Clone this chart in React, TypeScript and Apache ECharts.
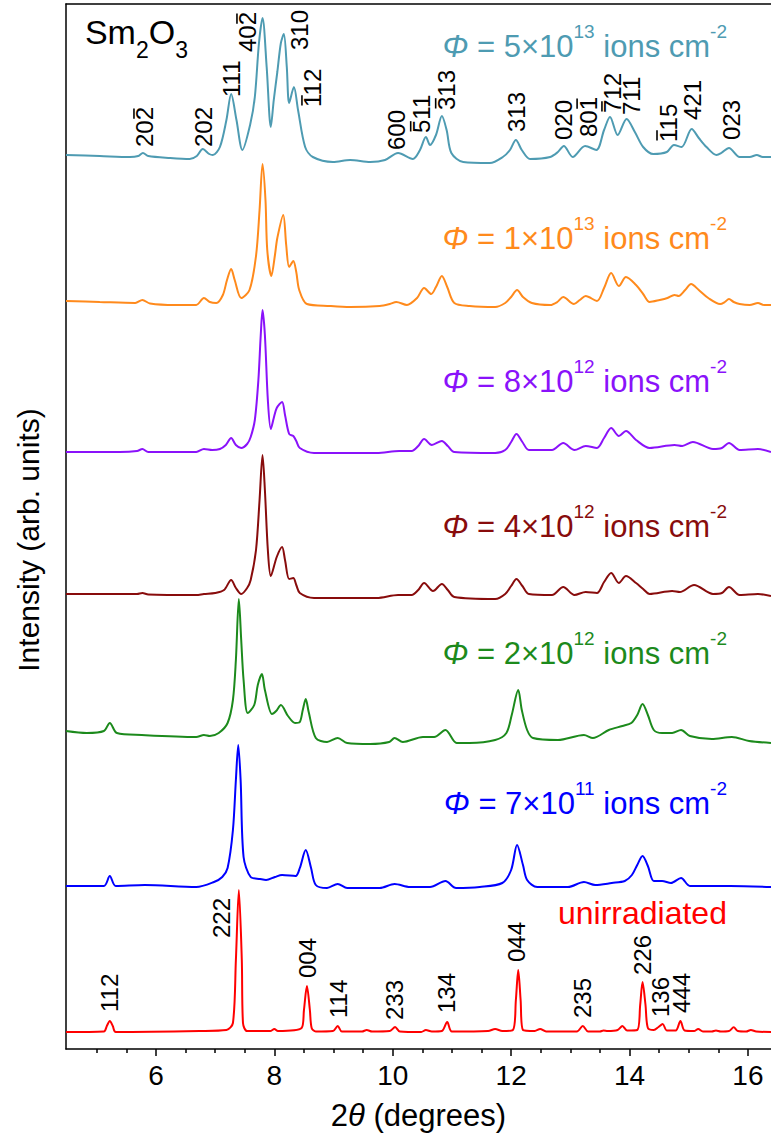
import { useEffect, useRef } from "react";
import * as echarts from "echarts";

const FONT = '"Liberation Sans", Arial, Helvetica, sans-serif';

const X_MIN = 4.48;
const X_MAX = 16.39;
const Y_MIN = 0;
const Y_MAX = 1045;
const majorTicks = [6, 8, 10, 12, 14, 16];
const minorTicks = [5, 5.5, 6.5, 7, 7.5, 8.5, 9, 9.5, 10.5, 11, 11.5, 12.5, 13, 13.5, 14.5, 15, 15.5];

// stacked patterns: [2θ, intensity (arb. units, offset included)]
const pattern5e13 = [[4.48,894],[5.05,893],[5.56,892],[5.70,893],[5.78,896],[5.87,893],[6.24,891],[6.57,890],[6.69,893],[6.79,900],[6.90,895],[6.96,894],[7.08,902],[7.19,929],[7.27,955],[7.36,929],[7.46,899],[7.59,924],[7.67,952],[7.74,1006],[7.80,1031],[7.87,982],[7.94,922],[7.99,949],[8.05,977],[8.11,1006],[8.16,1015],[8.21,982],[8.25,946],[8.33,962],[8.40,939],[8.52,902],[8.65,892],[8.99,887],[9.28,889],[9.62,887],[9.87,889],[10.09,896],[10.34,890],[10.46,899],[10.56,912],[10.63,904],[10.73,914],[10.83,933],[10.91,919],[10.99,896],[11.19,887],[11.64,886],[11.86,892],[11.98,899],[12.08,909],[12.18,899],[12.32,890],[12.66,892],[12.79,897],[12.89,903],[13.04,892],[13.25,903],[13.44,899],[13.57,919],[13.67,932],[13.80,914],[13.95,930],[14.09,917],[14.23,902],[14.40,895],[14.63,897],[14.75,904],[14.88,902],[15.05,920],[15.17,911],[15.30,902],[15.47,894],[15.55,896],[15.68,901],[15.86,892],[16.03,892],[16.15,894],[16.25,892],[16.39,892]];
const pattern1e13 = [[4.48,748],[5.05,747],[5.65,746],[5.77,749],[5.90,745.5],[6.32,744],[6.68,744],[6.81,751],[6.91,747],[7.02,746],[7.13,754],[7.20,769],[7.27,780],[7.33,769],[7.44,751],[7.58,759],[7.69,793],[7.75,839],[7.80,885],[7.85,849],[7.88,799],[7.95,773],[8.01,794],[8.05,811],[8.15,834],[8.20,804],[8.25,782],[8.32,788],[8.37,777],[8.42,759],[8.55,745],[8.94,743],[9.28,742],[9.78,743],[9.95,745],[10.06,747],[10.24,744],[10.41,751],[10.53,761],[10.65,755],[10.73,762],[10.83,773],[10.92,762],[11.04,746],[11.30,743],[11.73,742],[11.90,746],[12.00,752],[12.10,759],[12.20,752],[12.35,746],[12.66,744],[12.78,747],[12.88,752],[13.06,745],[13.16,749],[13.26,753],[13.45,748],[13.57,761],[13.69,776],[13.82,763],[13.94,772],[14.11,764],[14.23,755],[14.34,747],[14.51,749],[14.64,751],[14.76,754],[14.83,753],[14.94,759],[15.04,765],[15.17,759],[15.33,751],[15.53,745],[15.61,747],[15.68,750],[15.76,747],[15.86,745],[16.03,744],[16.17,746],[16.27,744],[16.39,744]];
const pattern8e12 = [[4.48,597],[5.39,597],[5.68,598],[5.77,600],[5.87,597],[6.68,597],[6.81,600],[6.95,599],[7.08,600],[7.18,604],[7.27,611],[7.35,604],[7.44,601],[7.54,605],[7.60,612],[7.67,629],[7.73,669],[7.77,714],[7.80,739],[7.84,714],[7.89,649],[7.94,620],[7.99,631],[8.04,641],[8.13,647],[8.18,634],[8.25,615],[8.32,613],[8.37,608],[8.43,601],[8.67,596],[9.73,596],[10.11,598],[10.32,598],[10.43,603],[10.53,610],[10.66,604],[10.83,608],[10.93,603],[11.04,597],[11.73,596],[11.90,599],[12.00,607],[12.09,615],[12.19,607],[12.30,599],[12.69,599],[12.88,606],[13.07,599],[13.26,603],[13.45,601],[13.57,611],[13.69,621],[13.82,613],[13.94,618],[14.11,609],[14.34,601],[14.76,604],[14.89,603],[15.07,607],[15.41,600],[15.56,601],[15.68,606],[15.86,599],[16.17,600],[16.39,597]];
const pattern4e12 = [[4.48,455],[5.68,455],[5.77,456],[5.87,454.5],[6.68,454],[6.81,455],[7.00,456],[7.15,459],[7.27,469],[7.35,461],[7.44,455],[7.54,461],[7.60,469],[7.69,499],[7.75,549],[7.80,594],[7.84,559],[7.89,499],[7.94,473],[8.04,492],[8.13,502],[8.18,489],[8.25,470],[8.32,471],[8.37,464],[8.43,456],[8.67,451],[9.73,451],[10.09,454],[10.32,454],[10.43,459],[10.53,466],[10.68,458],[10.83,465],[10.93,459],[11.04,452],[11.73,450],[11.90,455],[12.00,463],[12.09,470],[12.19,463],[12.30,455],[12.69,454],[12.88,462],[13.07,454],[13.26,457],[13.45,456],[13.57,467],[13.69,476],[13.82,466],[13.94,473],[14.11,466],[14.23,460],[14.34,455],[14.72,458],[14.85,457],[15.09,464],[15.41,455],[15.56,456],[15.68,462],[15.86,454],[16.17,455],[16.39,453]];
const pattern2e12 = [[4.48,318],[4.83,316],[5.12,318],[5.22,326],[5.34,316],[5.76,314],[6.68,312],[6.81,314],[6.91,313],[7.06,316],[7.21,326],[7.30,349],[7.35,389],[7.40,450],[7.44,409],[7.48,369],[7.55,336],[7.66,344],[7.72,364],[7.79,375],[7.84,359],[7.96,335],[8.03,338],[8.11,344],[8.23,333],[8.35,326],[8.43,327],[8.48,339],[8.53,350],[8.58,337],[8.70,311],[8.89,307],[9.07,311],[9.23,306],[9.62,305],[9.94,307],[10.03,311],[10.17,307],[10.51,312],[10.70,312],[10.89,319],[11.08,306],[11.30,306],[11.73,309],[11.92,316],[12.01,334],[12.12,359],[12.18,339],[12.27,319],[12.37,311],[12.79,309],[13.23,314],[13.38,311],[13.65,319],[13.88,323],[14.03,326],[14.13,334],[14.22,345],[14.31,334],[14.41,319],[14.55,316],[14.72,316],[14.87,319],[15.02,313],[15.39,310],[15.73,312],[16.02,308],[16.39,306]];
const pattern7e11 = [[4.48,163],[5.12,163],[5.22,173],[5.32,163],[5.81,164],[6.68,162],[6.98,167],[7.12,172],[7.21,181],[7.30,219],[7.35,269],[7.39,304],[7.43,269],[7.48,192],[7.60,172],[7.76,170],[7.86,169],[8.01,172],[8.13,174],[8.36,173],[8.43,181],[8.53,199],[8.62,181],[8.70,164],[8.89,161],[9.07,165],[9.23,161],[9.78,161],[10.03,165],[10.29,162],[10.63,162],[10.89,168],[11.07,161],[11.47,162],[11.85,166],[12.00,179],[12.10,204],[12.20,184],[12.27,169],[12.44,162],[12.96,162],[13.23,167],[13.42,164],[13.70,166],[13.92,168],[14.04,174],[14.13,184],[14.22,193],[14.31,183],[14.41,168],[14.55,168],[14.70,166],[14.87,171],[15.02,163],[15.70,163],[16.39,162]];
const patternUnirr = [[4.48,17],[5.12,17.5],[5.17,23],[5.22,28],[5.27,23],[5.32,17],[6.74,18],[7.19,19],[7.30,26],[7.35,89],[7.40,159],[7.45,89],[7.47,26],[7.54,18],[7.93,18],[8.00,20],[8.06,18],[8.46,21],[8.50,39],[8.55,63],[8.60,39],[8.63,21],[8.70,17.5],[8.99,18],[9.07,23],[9.14,17.5],[9.48,17.5],[9.56,19],[9.65,17.5],[9.95,18],[10.04,22],[10.12,17.5],[10.48,17],[10.56,19],[10.66,17.5],[10.83,18],[10.92,27],[11.00,17.5],[11.61,18],[11.73,20],[11.85,18],[12.03,19],[12.08,49],[12.12,79],[12.16,49],[12.20,19],[12.40,18],[12.49,20],[12.59,17.5],[13.11,17.5],[13.21,23],[13.30,17.5],[13.50,17.5],[13.56,18.5],[13.63,18],[13.80,19],[13.88,23],[13.96,18.5],[14.13,19],[14.18,44],[14.22,67],[14.27,44],[14.31,21],[14.41,19],[14.49,22],[14.56,25],[14.63,18.5],[14.78,18.5],[14.86,28],[14.93,18.5],[15.09,18],[15.16,20],[15.24,17.5],[15.39,17.5],[15.46,18.5],[15.54,17.5],[15.68,18],[15.76,21.7],[15.83,18],[15.97,17.5],[16.05,19],[16.14,17.5],[16.39,17]];

const patterns = [pattern5e13, pattern1e13, pattern8e12, pattern4e12, pattern2e12, pattern7e11, patternUnirr];
const fluenceMantissa = ["5", "1", "8", "4", "2", "7"];
const fluenceExponent = ["13", "13", "12", "12", "12", "11"];
const seriesColors = ["#4e9bb2", "#ff8a1c", "#8a12fa", "#880c0c", "#1c8a1c", "#0000ff", "#ff0000"];
// legend anchor (right edge 2θ, intensity at text centre)
const legendTheta = [15.646, 15.646, 15.646, 15.646, 15.646, 15.646, 15.646];
const legendLevel = [1007, 815, 672, 527, 400, 250, 136];

// monoclinic reflections (top pattern); bar index = digit carrying the overline (negative index), -1 = none
const monoLabels = ["202", "202", "111", "402", "310", "112", "600", "511", "313", "313", "020", "801", "712", "711", "115", "421", "023"];
const monoBarIndex = [2, -1, -1, 2, -1, 0, -1, 0, 0, -1, -1, 2, 0, -1, 0, -1, -1];
const monoTheta = [5.814, 6.811, 7.279, 7.554, 8.433, 8.652, 10.071, 10.489, 10.911, 12.093, 12.89, 13.30, 13.72, 14.036, 14.65, 15.07, 15.725];
const monoBase = [902, 902, 952, 997, 999, 942, 899, 916, 939, 917, 909, 912, 936, 934, 907, 929, 909];

// cubic reflections (unirradiated)
const cubicLabels = ["112", "222", "004", "114", "233", "134", "044", "235", "226", "136", "444"];
const cubicTheta = [5.223, 7.11, 8.556, 9.08, 10.026, 10.916, 12.098, 13.21, 14.22, 14.52, 14.87];
const cubicBase = [37, 111, 71, 31, 29, 36, 87, 31, 74, 32, 36];

export default function App() {
  const ref = useRef<HTMLDivElement>(null);
  useEffect(() => {
    if (!ref.current) return;
    const chart = echarts.init(ref.current, undefined, { renderer: "svg" });
    const series = patterns.map((d, i) => ({
      type: "line",
      data: d,
      smooth: 0.3,
      showSymbol: false,
      symbol: "none",
      clip: true,
      lineStyle: { color: seriesColors[i], width: 2 },
      z: 3,
    }));
    chart.setOption({
      animation: false,
      grid: { left: 66, right: 0, top: 4, bottom: 88, containLabel: false },
      xAxis: [
        {
          type: "value",
          min: X_MIN,
          max: X_MAX,
          position: "bottom",
          axisLine: { show: true, onZero: false, lineStyle: { color: "#000", width: 1.5 } },
          axisTick: { show: true, customValues: majorTicks, length: 7, inside: false, lineStyle: { color: "#000", width: 1.5 } },
          axisLabel: { show: true, customValues: majorTicks, fontSize: 28, color: "#000", fontFamily: FONT, margin: 12 },
          splitLine: { show: false },
          name: "2{i|θ} (degrees)",
          nameLocation: "middle",
          nameGap: 51,
          nameTextStyle: {
            fontSize: 31,
            color: "#000",
            fontFamily: FONT,
            verticalAlign: "top",
            rich: { i: { fontStyle: "italic", fontSize: 31, color: "#000", fontFamily: FONT } },
          },
        },
        {
          type: "value",
          min: X_MIN,
          max: X_MAX,
          position: "bottom",
          axisLine: { show: false },
          axisTick: { show: true, customValues: minorTicks, length: 4, inside: false, lineStyle: { color: "#000", width: 1.5 } },
          axisLabel: { show: false },
          splitLine: { show: false },
        },
        {
          type: "value",
          min: X_MIN,
          max: X_MAX,
          position: "top",
          axisLine: { show: true, onZero: false, lineStyle: { color: "#000", width: 1.5 } },
          axisTick: { show: false },
          axisLabel: { show: false },
          splitLine: { show: false },
        },
      ],
      yAxis: {
        type: "value",
        min: Y_MIN,
        max: Y_MAX,
        axisLine: { show: true, onZero: false, lineStyle: { color: "#000", width: 1.5 } },
        axisTick: { show: false },
        axisLabel: { show: false },
        splitLine: { show: false },
      },
      series,
    });

    const toPx = (x: number, y: number) =>
      chart.convertToPixel({ xAxisIndex: 0, yAxisIndex: 0 }, [x, y]) as number[];

    const LABEL_SIZE = 24;
    const DIGIT = LABEL_SIZE * 0.556;
    const graphics: any[] = [];
    const peakLabel = (txt: string, x: number, y: number, bar: number) => {
      const p = toPx(x, y);
      graphics.push({
        type: "text",
        x: p[0],
        y: p[1],
        rotation: Math.PI / 2,
        z: 10,
        style: { text: txt, fill: "#000", fontSize: LABEL_SIZE, fontFamily: FONT, align: "left", verticalAlign: "middle" },
      });
      if (bar >= 0) {
        const bx = p[0] - 11;
        graphics.push({
          type: "line",
          z: 10,
          shape: { x1: bx, y1: p[1] - bar * DIGIT - 1.5, x2: bx, y2: p[1] - (bar + 1) * DIGIT + 1.5 },
          style: { stroke: "#000", lineWidth: 1.6 },
        });
      }
    };
    monoLabels.forEach((t, i) => peakLabel(t, monoTheta[i], monoBase[i], monoBarIndex[i]));
    cubicLabels.forEach((t, i) => peakLabel(t, cubicTheta[i], cubicBase[i], -1));

    fluenceMantissa.forEach((m, i) => {
      const p = toPx(legendTheta[i], legendLevel[i]);
      const c = seriesColors[i];
      graphics.push({
        type: "text",
        x: p[0],
        y: p[1],
        z: 10,
        style: {
          text: `{phi|Φ}{n| = ${m}×10}{sup|${fluenceExponent[i]}}{n| ions cm}{sup|-2}`,
          align: "right",
          verticalAlign: "middle",
          fill: c,
          fontSize: 31,
          fontFamily: FONT,
          rich: {
            phi: { fontStyle: "italic", fontSize: 31, fill: c, fontFamily: FONT, lineHeight: 40, verticalAlign: "bottom" },
            n: { fontSize: 31, fill: c, fontFamily: FONT, lineHeight: 40, verticalAlign: "bottom" },
            sup: { fontSize: 19, fill: c, fontFamily: FONT, lineHeight: 40, verticalAlign: "top" },
          },
        },
      });
    });
    {
      const p = toPx(legendTheta[6], legendLevel[6]);
      graphics.push({
        type: "text",
        x: p[0],
        y: p[1],
        z: 10,
        style: { text: "unirradiated", fill: seriesColors[6], fontSize: 32, fontFamily: FONT, align: "right", verticalAlign: "middle" },
      });
    }
    {
      const p = toPx(4.8, 1011);
      graphics.push({
        type: "text",
        x: p[0],
        y: p[1],
        z: 10,
        style: {
          text: "{m|Sm}{s|2}{m|O}{s|3}",
          align: "left",
          verticalAlign: "middle",
          fill: "#000",
          fontFamily: FONT,
          fontSize: 34,
          rich: {
            m: { fontSize: 34, fill: "#000", fontFamily: FONT, lineHeight: 46, verticalAlign: "top" },
            s: { fontSize: 23, fill: "#000", fontFamily: FONT, lineHeight: 46, verticalAlign: "bottom" },
          },
        },
      });
    }
    graphics.push({
      type: "text",
      x: 28,
      y: 540,
      rotation: Math.PI / 2,
      style: { text: "Intensity (arb. units)", fill: "#000", fontSize: 30, fontFamily: FONT, align: "center", verticalAlign: "middle" },
    });
    chart.setOption({ graphic: graphics });

    return () => chart.dispose();
  }, []);
  return <div ref={ref} style={{ width: 771, height: 1137, position: "absolute", left: 0, top: 0 }} />;
}
